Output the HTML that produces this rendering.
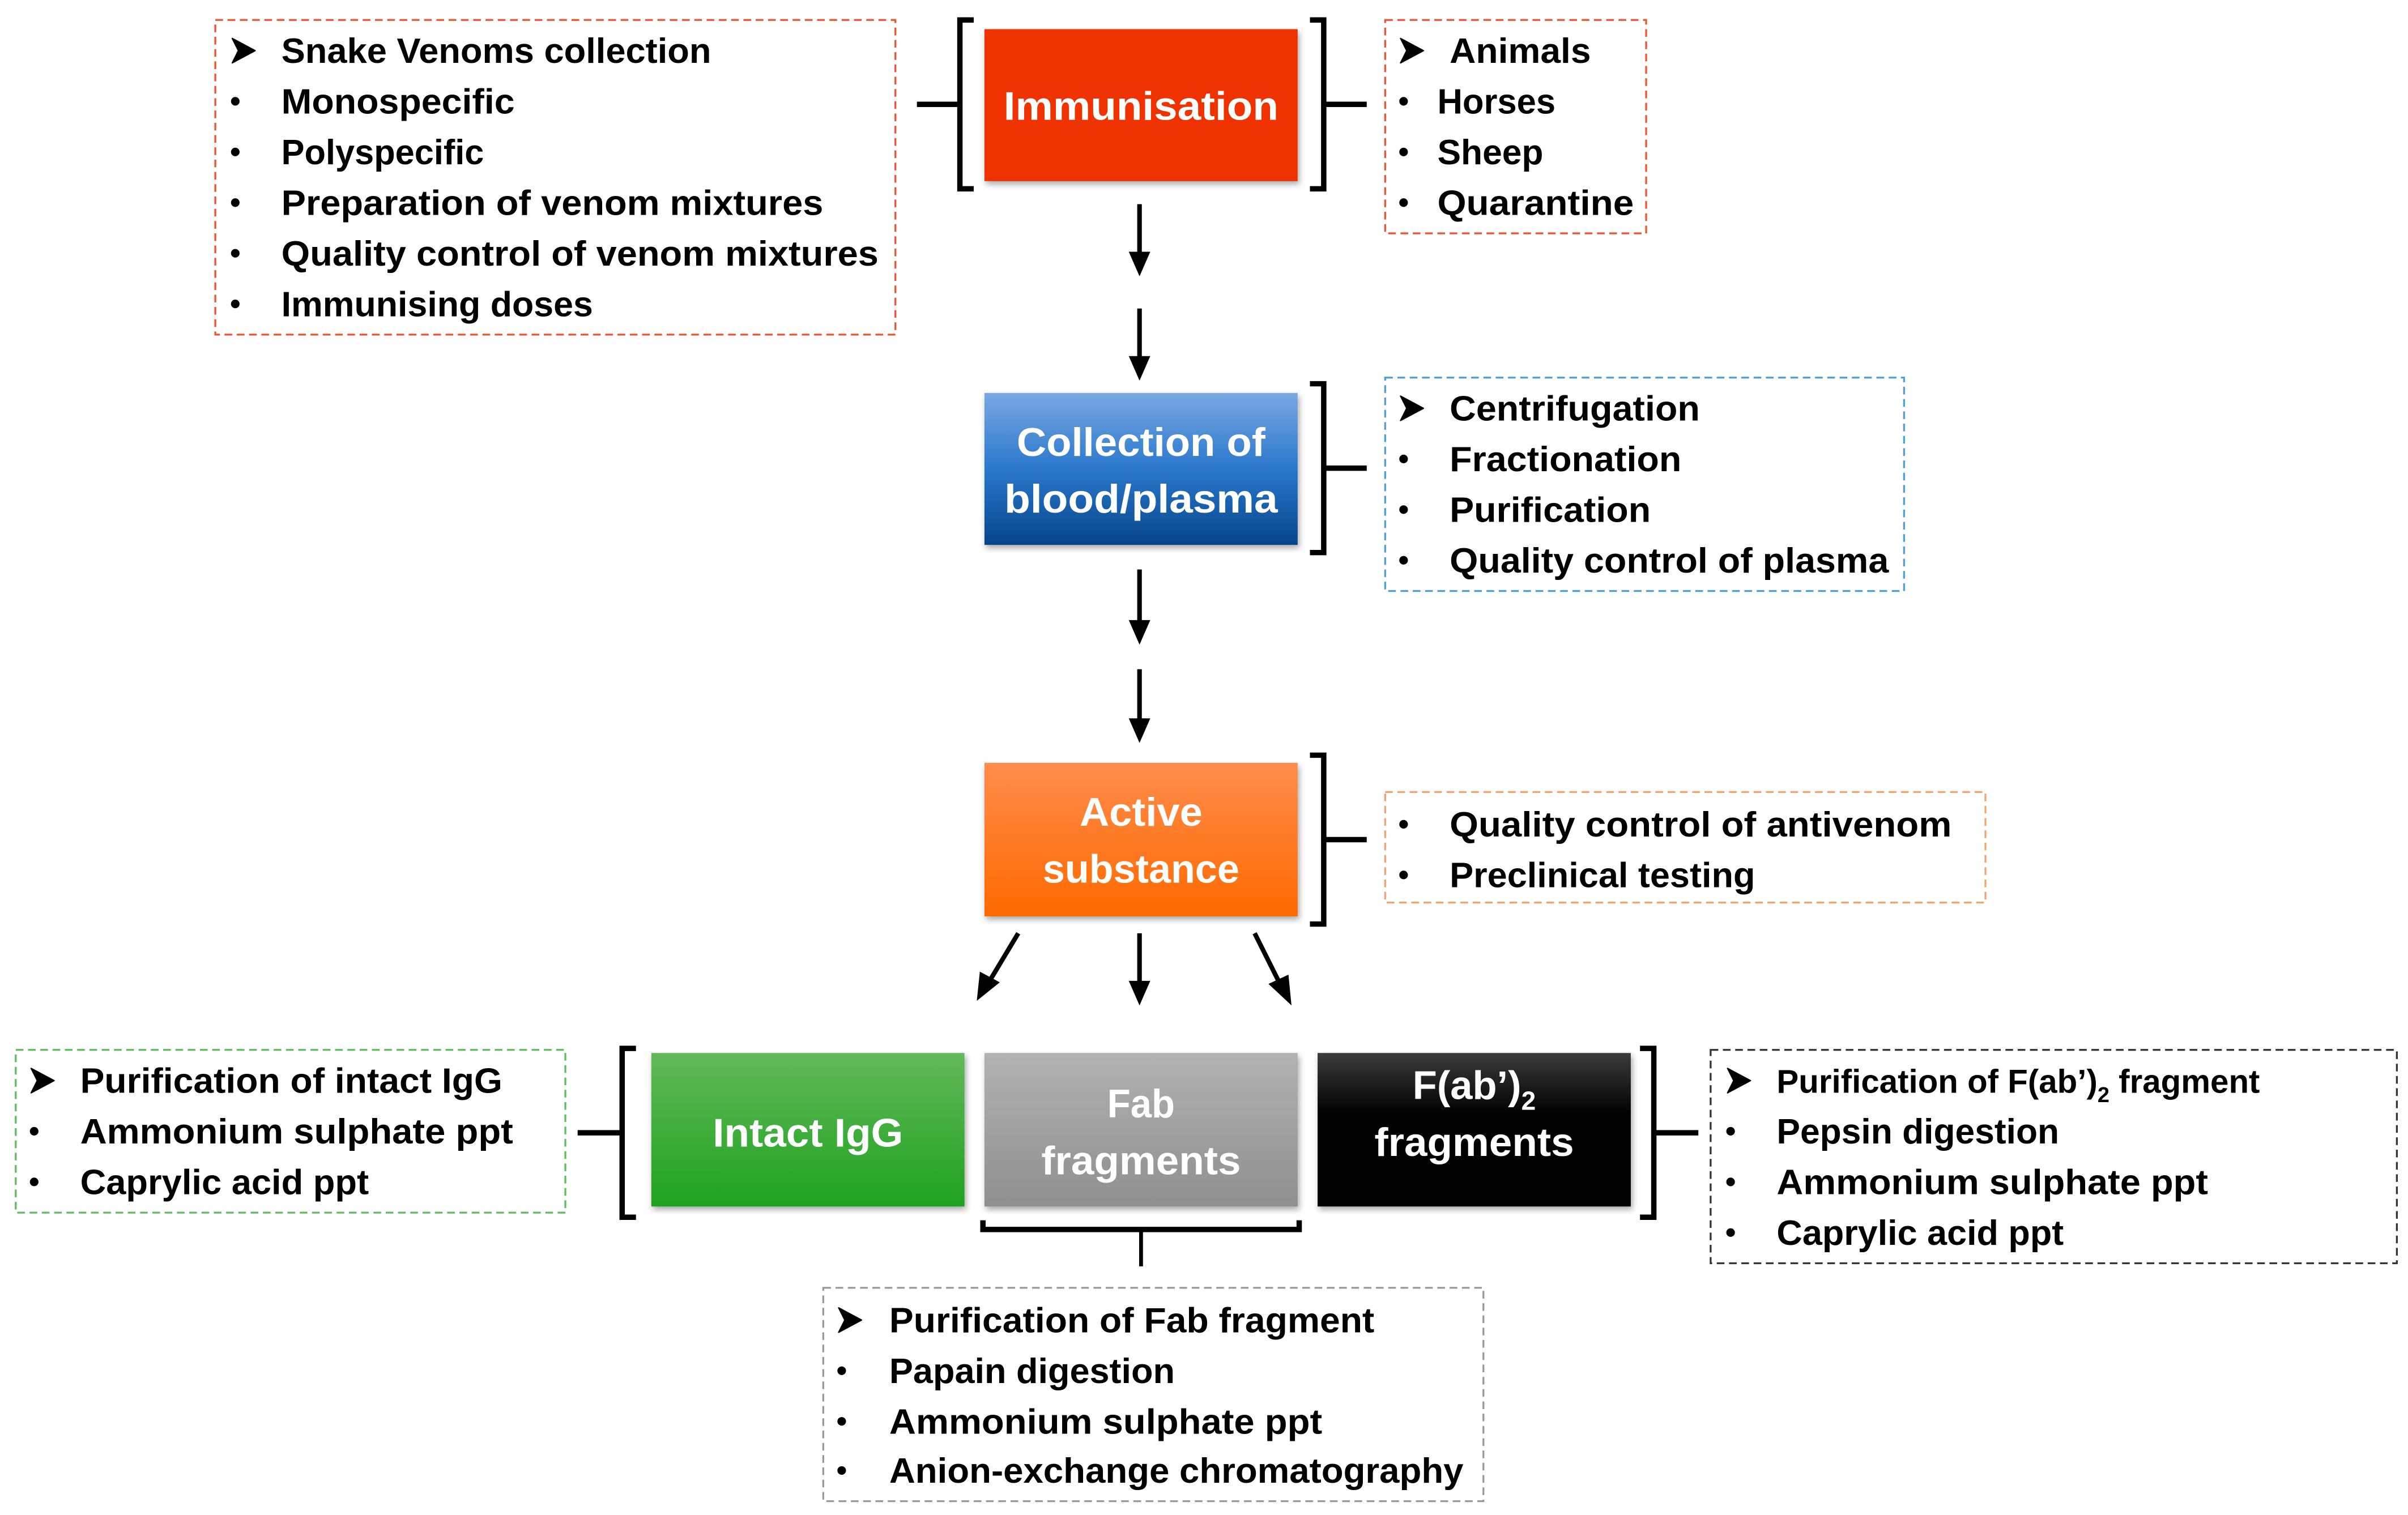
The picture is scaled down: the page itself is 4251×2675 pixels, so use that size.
<!DOCTYPE html>
<html><head><meta charset="utf-8"><style>
html,body{margin:0;padding:0;background:#fff;}
svg{display:block;}
text{font-family:"Liberation Sans",sans-serif;font-weight:bold;}
</style></head><body>
<svg width="4251" height="2675" viewBox="0 0 1568 987" xmlns="http://www.w3.org/2000/svg">
<defs>
<linearGradient id="gb" x1="0" y1="0" x2="0" y2="1"><stop offset="0" stop-color="#7ba8e2"/><stop offset="0.5" stop-color="#2a78cc"/><stop offset="1" stop-color="#06468a"/></linearGradient>
<linearGradient id="go" x1="0" y1="0" x2="0" y2="1"><stop offset="0" stop-color="#ff8c4c"/><stop offset="1" stop-color="#ff6a00"/></linearGradient>
<linearGradient id="gg" x1="0" y1="0" x2="0" y2="1"><stop offset="0" stop-color="#62b95a"/><stop offset="1" stop-color="#1fa21f"/></linearGradient>
<linearGradient id="gy" x1="0" y1="0" x2="0" y2="1"><stop offset="0" stop-color="#b2b2b2"/><stop offset="1" stop-color="#8f8f8f"/></linearGradient>
<linearGradient id="gk" x1="0" y1="0" x2="0" y2="1"><stop offset="0" stop-color="#3c3c3c"/><stop offset="0.4" stop-color="#000"/><stop offset="1" stop-color="#000"/></linearGradient>
</defs>

<!-- dashed boxes -->
<g fill="none" stroke-width="1.2" stroke-dasharray="5,3">
<rect x="140" y="13" width="443" height="205" stroke="#f0522d"/>
<rect x="902" y="13" width="170" height="139" stroke="#f0522d"/>
<rect x="902" y="246" width="338" height="139" stroke="#4aa0d8"/>
<rect x="902" y="516" width="391" height="72" stroke="#f5a36b"/>
<rect x="10" y="684" width="358" height="106" stroke="#5cbf5c"/>
<rect x="1114" y="684" width="447" height="139" stroke="#333"/>
<rect x="536" y="839" width="430" height="139" stroke="#999"/>
</g>

<!-- main boxes -->
<g style="filter:drop-shadow(1px 2px 2px rgba(0,0,0,0.35))">
<rect x="641" y="19" width="204" height="99" fill="#ee3300"/>
<rect x="641" y="256" width="204" height="99" fill="url(#gb)"/>
<rect x="641" y="497" width="204" height="100" fill="url(#go)"/>
<rect x="424" y="686" width="204" height="100" fill="url(#gg)"/>
<rect x="641" y="686" width="204" height="100" fill="url(#gy)"/>
<rect x="858" y="686" width="204" height="100" fill="url(#gk)"/>
</g>
<g fill="#fff" font-size="26" text-anchor="middle">
<text x="743" y="78" textLength="179" lengthAdjust="spacingAndGlyphs">Immunisation</text>
<text x="743" y="297" textLength="162" lengthAdjust="spacingAndGlyphs">Collection of</text>
<text x="743" y="334" textLength="178" lengthAdjust="spacingAndGlyphs">blood/plasma</text>
<text x="743" y="538" textLength="80" lengthAdjust="spacingAndGlyphs">Active</text>
<text x="743" y="575" textLength="128" lengthAdjust="spacingAndGlyphs">substance</text>
<text x="526" y="747" textLength="124" lengthAdjust="spacingAndGlyphs">Intact IgG</text>
<text x="743" y="728" textLength="44" lengthAdjust="spacingAndGlyphs">Fab</text>
<text x="743" y="765" textLength="130" lengthAdjust="spacingAndGlyphs">fragments</text>
<text x="960" y="716">F(ab’)<tspan font-size="17" dy="7">2</tspan></text>
<text x="960" y="753" textLength="130" lengthAdjust="spacingAndGlyphs">fragments</text>
</g>

<!-- brackets -->
<g fill="none" stroke="#000" stroke-width="3.5">
<path d="M634,13 L625,13 L625,123 L634,123 M597,68 L625,68"/>
<path d="M853,13 L862,13 L862,123 L853,123 M862,68 L890,68"/>
<path d="M853,250 L862,250 L862,360 L853,360 M862,305 L890,305"/>
<path d="M853,492 L862,492 L862,602 L853,602 M862,547 L890,547"/>
<path d="M414,683 L405,683 L405,793 L414,793 M376,738 L405,738"/>
<path d="M1068,683 L1077,683 L1077,793 L1068,793 M1077,738 L1106,738"/>
<path d="M640,795 L640,801 L846,801 L846,795"/>
<path d="M743,801 L743,825" stroke-width="2.5"/>
</g>

<!-- arrows -->
<g stroke="#000" stroke-width="3">
<line x1="742" y1="133" x2="742" y2="166"/>
<line x1="742" y1="201" x2="742" y2="234"/>
<line x1="742" y1="371" x2="742" y2="406"/>
<line x1="742" y1="436" x2="742" y2="470"/>
<line x1="742" y1="608" x2="742" y2="641"/>
<line x1="663" y1="608" x2="645" y2="638"/>
<line x1="817" y1="608" x2="833" y2="640"/>
</g>
<g fill="#000">
<path d="M735,164 L749,164 L742,180 z"/>
<path d="M735,232 L749,232 L742,248 z"/>
<path d="M735,404 L749,404 L742,420 z"/>
<path d="M735,468 L749,468 L742,484 z"/>
<path d="M735,639 L749,639 L742,655 z"/>
<path d="M638,633 L651,640 L636,652 z"/>
<path d="M826,641 L839,635 L841,655 z"/>
</g>

<!-- list items -->
<g font-size="23" fill="#000">
<text x="183" y="41" textLength="280" lengthAdjust="spacingAndGlyphs">Snake Venoms collection</text>
<text x="183" y="74" textLength="152" lengthAdjust="spacingAndGlyphs">Monospecific</text>
<text x="183" y="107" textLength="132" lengthAdjust="spacingAndGlyphs">Polyspecific</text>
<text x="183" y="140" textLength="353" lengthAdjust="spacingAndGlyphs">Preparation of venom mixtures</text>
<text x="183" y="173" textLength="389" lengthAdjust="spacingAndGlyphs">Quality control of venom mixtures</text>
<text x="183" y="206" textLength="203" lengthAdjust="spacingAndGlyphs">Immunising doses</text>
<text x="944" y="41" textLength="92" lengthAdjust="spacingAndGlyphs">Animals</text>
<text x="936" y="74" textLength="77" lengthAdjust="spacingAndGlyphs">Horses</text>
<text x="936" y="107" textLength="69" lengthAdjust="spacingAndGlyphs">Sheep</text>
<text x="936" y="140" textLength="128" lengthAdjust="spacingAndGlyphs">Quarantine</text>
<text x="944" y="274" textLength="163" lengthAdjust="spacingAndGlyphs">Centrifugation</text>
<text x="944" y="307" textLength="151" lengthAdjust="spacingAndGlyphs">Fractionation</text>
<text x="944" y="340" textLength="131" lengthAdjust="spacingAndGlyphs">Purification</text>
<text x="944" y="373" textLength="286" lengthAdjust="spacingAndGlyphs">Quality control of plasma</text>
<text x="944" y="545" textLength="327" lengthAdjust="spacingAndGlyphs">Quality control of antivenom</text>
<text x="944" y="578" textLength="199" lengthAdjust="spacingAndGlyphs">Preclinical testing</text>
<text x="52" y="712" textLength="275" lengthAdjust="spacingAndGlyphs">Purification of intact IgG</text>
<text x="52" y="745" textLength="282" lengthAdjust="spacingAndGlyphs">Ammonium sulphate ppt</text>
<text x="52" y="778" textLength="188" lengthAdjust="spacingAndGlyphs">Caprylic acid ppt</text>
<text x="1157" y="712" font-size="21.5">Purification of F(ab’)<tspan font-size="14" dy="6">2</tspan><tspan dy="-6"> fragment</tspan></text>
<text x="1157" y="745" textLength="184" lengthAdjust="spacingAndGlyphs">Pepsin digestion</text>
<text x="1157" y="778" textLength="281" lengthAdjust="spacingAndGlyphs">Ammonium sulphate ppt</text>
<text x="1157" y="811" textLength="187" lengthAdjust="spacingAndGlyphs">Caprylic acid ppt</text>
<text x="579" y="868" textLength="316" lengthAdjust="spacingAndGlyphs">Purification of Fab fragment</text>
<text x="579" y="901" textLength="186" lengthAdjust="spacingAndGlyphs">Papain digestion</text>
<text x="579" y="934" textLength="282" lengthAdjust="spacingAndGlyphs">Ammonium sulphate ppt</text>
<text x="579" y="966" textLength="374" lengthAdjust="spacingAndGlyphs">Anion-exchange chromatography</text>
</g>

<!-- bullets -->
<g fill="#000">
<circle cx="153" cy="66" r="2.8"/><circle cx="153" cy="99" r="2.8"/><circle cx="153" cy="132" r="2.8"/><circle cx="153" cy="165" r="2.8"/><circle cx="153" cy="198" r="2.8"/>
<circle cx="914" cy="66" r="2.8"/><circle cx="914" cy="99" r="2.8"/><circle cx="914" cy="132" r="2.8"/>
<circle cx="914" cy="299" r="2.8"/><circle cx="914" cy="332" r="2.8"/><circle cx="914" cy="365" r="2.8"/>
<circle cx="914" cy="537" r="2.8"/><circle cx="914" cy="570" r="2.8"/>
<circle cx="22" cy="737" r="2.8"/><circle cx="22" cy="770" r="2.8"/>
<circle cx="1127" cy="737" r="2.8"/><circle cx="1127" cy="770" r="2.8"/><circle cx="1127" cy="803" r="2.8"/>
<circle cx="548" cy="893" r="2.8"/><circle cx="548" cy="926" r="2.8"/><circle cx="548" cy="958" r="2.8"/>
</g>
<g fill="#000" stroke="#000" stroke-width="0.8" stroke-linejoin="round">
<path d="M151,25 L166,33 L151,41 L155,33 z"/>
<path d="M912,25 L927,33 L912,41 L916,33 z"/>
<path d="M912,258 L927,266 L912,274 L916,266 z"/>
<path d="M20,696 L35,704 L20,712 L24,704 z"/>
<path d="M1125,696 L1140,704 L1125,712 L1129,704 z"/>
<path d="M546,852 L561,860 L546,868 L550,860 z"/>
</g>
</svg>
</body></html>
